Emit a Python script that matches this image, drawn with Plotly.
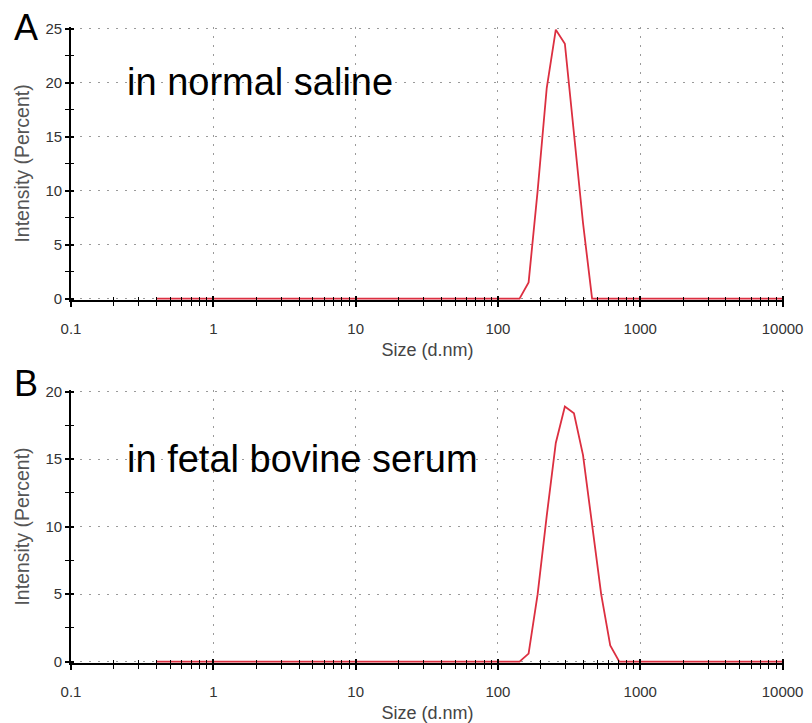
import plotly.graph_objects as go

# ---------------- data ----------------
size_nm = [0.4, 0.4632, 0.5365, 0.6213, 0.7195, 0.8332, 0.9649, 1.117, 1.294, 1.499,
           1.736, 2.010, 2.328, 2.696, 3.122, 3.615, 4.187, 4.849, 5.615, 6.503,
           7.531, 8.721, 10.10, 11.70, 13.54, 15.69, 18.17, 21.04, 24.36, 28.21,
           32.67, 37.84, 43.82, 50.75, 58.77, 68.06, 78.82, 91.28, 105.7, 122.4,
           141.8, 164.2, 190.1, 220.2, 255.0, 295.3, 342.0, 396.1, 458.7, 531.2,
           615.1, 712.4, 825.0, 955.4, 1106, 1281, 1484, 1718, 1990, 2305,
           2669, 3091, 3580, 4145, 4801, 5560, 6439, 7456, 8635, 10000]

intensity_saline = [0] * 41 + [1.5, 10.0, 19.5, 24.9, 23.6, 15.0, 7.0] + [0] * 22
intensity_fbs = [0] * 41 + [0.6, 5.0, 10.8, 16.2, 18.9, 18.4, 15.3, 10.0, 5.0, 1.2] + [0] * 19

x_tick_vals = [0.1, 1, 10, 100, 1000, 10000]
x_tick_text = ["0.1", "1", "10", "100", "1000", "10000"]
x_minor_vals = [m * d for d in [0.1, 1, 10, 100, 1000] for m in range(2, 10)]

panel_letters = ["A", "B"]
panel_texts = ["in normal saline", "in fetal bovine serum"]

# ---------------- geometry helpers ----------------
W, H = 812, 723
L_PX, R_PX = 71.0, 784.4
T_PX, B_PX = 27.4, 663.35


def pxx(px):
    return (px - L_PX) / (R_PX - L_PX)


def pxy(py):
    return (B_PX - py) / (B_PX - T_PX)


line_color = "#dc2f40"
font_fam = "Liberation Sans, Arial, sans-serif"

fig = go.Figure()

datasets = [intensity_saline, intensity_fbs]
for i, vals in enumerate(datasets):
    n = i + 1
    xa = "x" if n == 1 else "x2"
    ya = "y" if n == 1 else "y2"
    fig.add_trace(go.Scatter(x=size_nm, y=vals, mode="lines",
                             line=dict(color=line_color, width=1.8),
                             xaxis=xa, yaxis=ya, showlegend=False, hoverinfo="skip"))
    # invisible twin trace for overlay axes (crossing ticks)
    fig.add_trace(go.Scatter(x=size_nm, y=vals, mode="lines", opacity=0,
                             line=dict(color=line_color, width=0),
                             xaxis="x%d" % (n + 2), yaxis="y%d" % (n + 2),
                             showlegend=False, hoverinfo="skip"))

domains = [[pxy(300.3), 1.0], [0.0, pxy(390.4)]]
yranges = [[-0.12, 25.15], [-0.1, 20.12]]
xrange_ = [-1, 4.01]

tickfont = dict(family=font_fam, size=15, color="#333333")
titlefont = dict(family=font_fam, size=18, color="#444444")
ytitlefont = dict(family=font_fam, size=19.5, color="#555555")
grid_kw = dict(showgrid=True, gridcolor="#9a9a9a", gridwidth=1, griddash="2px,7px")

layout = dict(
    width=W, height=H,
    margin=dict(l=L_PX, r=W - R_PX, t=T_PX, b=H - B_PX, autoexpand=False),
    paper_bgcolor="white", plot_bgcolor="white",
    showlegend=False,
)

for i in range(2):
    n = i + 1
    xname = "xaxis" if n == 1 else "xaxis2"
    yname = "yaxis" if n == 1 else "yaxis2"
    yid = "y" if n == 1 else "y2"
    xid = "x" if n == 1 else "x2"
    layout[xname] = dict(
        type="log", range=xrange_, anchor=yid, domain=[0, 1],
        tickmode="array", tickvals=x_tick_vals, ticktext=x_tick_text,
        ticks="outside", ticklen=5, tickwidth=1.5, tickcolor="black",
        minor=dict(tickmode="array", tickvals=x_minor_vals, ticks="outside",
                   ticklen=4, tickwidth=1, tickcolor="black", showgrid=False),
        showline=True, linecolor="black", linewidth=1.6,
        zeroline=False, tickfont=tickfont, ticklabelstandoff=9,
        title=dict(text="Size (d.nm)", font=titlefont, standoff=8),
        layer="below traces", automargin=False,
        **grid_kw,
    )
    layout[yname] = dict(
        range=yranges[i], anchor=xid, domain=domains[i],
        tickmode="linear", tick0=0, dtick=5,
        ticks="outside", ticklen=4, tickwidth=1.5, tickcolor="black",
        minor=dict(dtick=2.5, tick0=0, ticks="outside", ticklen=4, tickwidth=1,
                   tickcolor="black", showgrid=False),
        showline=True, linecolor="black", linewidth=1.6,
        zeroline=False, tickfont=tickfont,
        title=dict(text="Intensity (Percent)", font=ytitlefont, standoff=11),
        layer="below traces", automargin=False,
        **grid_kw,
    )
    # overlay axes providing the inside half of the crossing ticks
    layout["xaxis%d" % (n + 2)] = dict(
        type="log", range=xrange_, overlaying=xid, anchor="y%d" % (n + 2), side="bottom",
        tickmode="array", tickvals=x_tick_vals, showticklabels=False,
        ticks="inside", ticklen=4, tickwidth=1.5, tickcolor="black",
        minor=dict(tickmode="array", tickvals=x_minor_vals, ticks="inside",
                   ticklen=3, tickwidth=1, tickcolor="black", showgrid=False),
        showgrid=False, showline=False, zeroline=False,
    )
    layout["yaxis%d" % (n + 2)] = dict(
        range=yranges[i], overlaying=yid, anchor="x%d" % (n + 2), side="left",
        tickmode="linear", tick0=0, dtick=5, showticklabels=False,
        ticks="inside", ticklen=3, tickwidth=1.5, tickcolor="black",
        minor=dict(dtick=2.5, tick0=0, ticks="inside", ticklen=3, tickwidth=1,
                   tickcolor="black", showgrid=False),
        showgrid=False, showline=False, zeroline=False,
    )

fig.update_layout(**layout)

# panel letters and in-plot labels
letter_y = [28, 384]
label_y = [82, 459]
for i in range(2):
    fig.add_annotation(text=panel_letters[i], xref="paper", yref="paper",
                       x=pxx(12), y=pxy(letter_y[i]), xanchor="left", yanchor="middle",
                       showarrow=False, font=dict(family=font_fam, size=36, color="black"))
    fig.add_annotation(text=panel_texts[i], xref="paper", yref="paper",
                       x=pxx(125), y=pxy(label_y[i]), xanchor="left", yanchor="middle",
                       showarrow=False, font=dict(family=font_fam, size=38, color="black"))

fig.write_html("out.html")
